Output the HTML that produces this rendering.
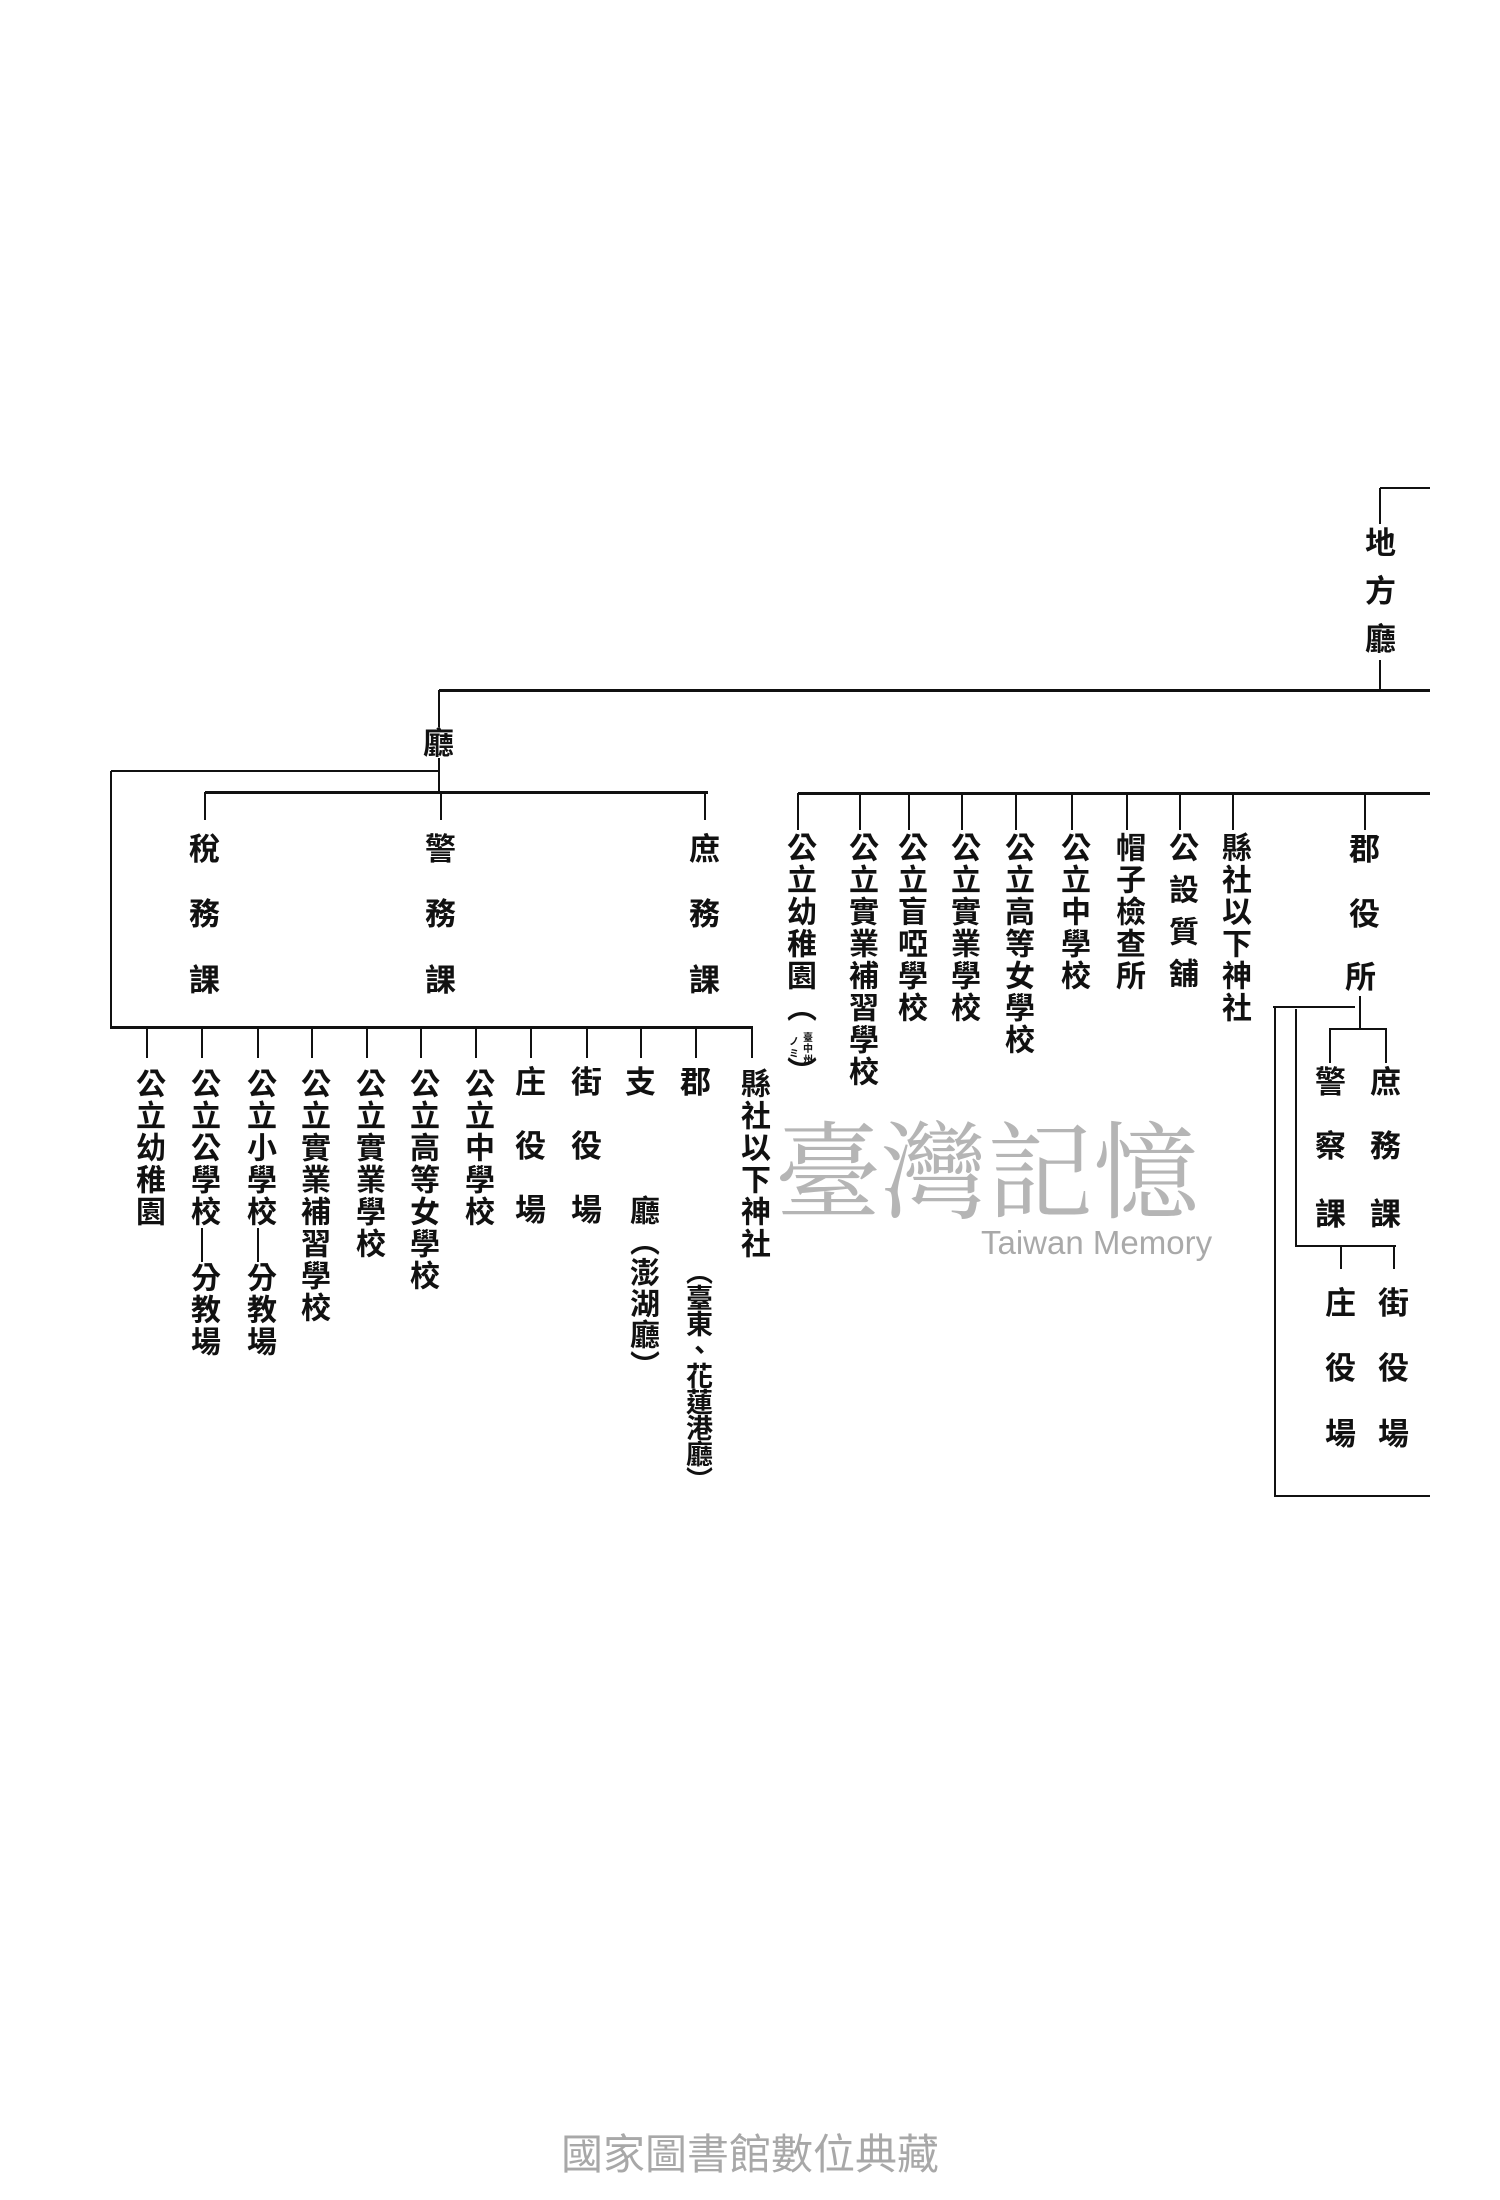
<!DOCTYPE html>
<html><head><meta charset="utf-8">
<style>
html,body{margin:0;padding:0;background:#fff;}
#c{position:relative;width:1500px;height:2200px;overflow:hidden;background:#fff;}
.h{position:absolute;height:3px;background:#111;}
.vl{position:absolute;width:2px;background:#111;}
.t{position:absolute;writing-mode:vertical-rl;text-orientation:upright;font-family:"Liberation Sans","Noto Sans CJK TC",sans-serif;font-weight:bold;font-size:30px;line-height:30px;letter-spacing:2px;color:#111;white-space:nowrap;}
.c{position:absolute;font-family:"Liberation Sans","Noto Sans CJK TC",sans-serif;font-weight:bold;font-size:31px;line-height:31px;width:31px;text-align:center;color:#111;}
.s{position:absolute;font-family:"Noto Sans CJK TC",sans-serif;font-weight:bold;font-size:10px;line-height:10px;width:10px;text-align:center;color:#111;}
</style></head><body><div id="c">
<div class="h" style="left:1380px;top:487px;width:50px;height:2px"></div>
<div class="vl" style="left:1379px;top:488px;height:36px"></div>
<div class="c" style="left:1365px;top:528px">地</div>
<div class="c" style="left:1365px;top:576px">方</div>
<div class="c" style="left:1365px;top:624px">廳</div>
<div class="vl" style="left:1379px;top:660px;height:31px"></div>
<div class="h" style="left:439px;top:689px;width:991px"></div>
<div class="vl" style="left:438px;top:690px;height:37px"></div>
<div class="c" style="left:423px;top:728px">廳</div>
<div class="vl" style="left:438px;top:758px;height:35px"></div>
<div class="h" style="left:111px;top:770px;width:328px;height:2px"></div>
<div class="h" style="left:205px;top:791px;width:503px"></div>
<div class="vl" style="left:204px;top:792px;height:28px"></div>
<div class="vl" style="left:440px;top:792px;height:28px"></div>
<div class="vl" style="left:704px;top:792px;height:28px"></div>
<div class="c" style="left:189px;top:834px">稅</div><div class="c" style="left:189px;top:899px">務</div><div class="c" style="left:189px;top:965px">課</div>
<div class="c" style="left:425px;top:834px">警</div><div class="c" style="left:425px;top:899px">務</div><div class="c" style="left:425px;top:965px">課</div>
<div class="c" style="left:689px;top:834px">庶</div><div class="c" style="left:689px;top:899px">務</div><div class="c" style="left:689px;top:965px">課</div>
<div class="vl" style="left:110px;top:771px;height:258px"></div>
<div class="h" style="left:111px;top:1026px;width:642px"></div>
<div class="vl" style="left:146px;top:1028px;height:30px"></div>
<div class="vl" style="left:201px;top:1028px;height:30px"></div>
<div class="vl" style="left:257px;top:1028px;height:30px"></div>
<div class="vl" style="left:311px;top:1028px;height:30px"></div>
<div class="vl" style="left:366px;top:1028px;height:30px"></div>
<div class="vl" style="left:420px;top:1028px;height:30px"></div>
<div class="vl" style="left:475px;top:1028px;height:30px"></div>
<div class="vl" style="left:530px;top:1028px;height:30px"></div>
<div class="vl" style="left:586px;top:1028px;height:30px"></div>
<div class="vl" style="left:640px;top:1028px;height:30px"></div>
<div class="vl" style="left:695px;top:1028px;height:30px"></div>
<div class="vl" style="left:751px;top:1028px;height:30px"></div>
<div class="t" style="left:132px;top:1068px">公立幼稚園</div>
<div class="t" style="left:187px;top:1068px">公立公學校</div>
<div class="vl" style="left:201px;top:1228px;height:34px"></div>
<div class="t" style="left:187px;top:1262px">分教場</div>
<div class="t" style="left:243px;top:1068px">公立小學校</div>
<div class="vl" style="left:257px;top:1228px;height:34px"></div>
<div class="t" style="left:243px;top:1262px">分教場</div>
<div class="t" style="left:297px;top:1068px">公立實業補習學校</div>
<div class="t" style="left:352px;top:1068px">公立實業學校</div>
<div class="t" style="left:406px;top:1068px">公立高等女學校</div>
<div class="t" style="left:461px;top:1068px">公立中學校</div>
<div class="c" style="left:515px;top:1067px">庄</div><div class="c" style="left:515px;top:1131px">役</div><div class="c" style="left:515px;top:1195px">場</div>
<div class="c" style="left:571px;top:1067px">街</div><div class="c" style="left:571px;top:1131px">役</div><div class="c" style="left:571px;top:1195px">場</div>
<div class="c" style="left:625px;top:1067px">支</div>
<div class="t" style="left:626px;top:1195px;letter-spacing:1px">廳（澎湖廳）</div>
<div class="c" style="left:680px;top:1067px">郡</div>
<div class="t" style="left:683px;top:1258px;font-size:27px;line-height:27px;letter-spacing:-1px">（臺東、花蓮港廳）</div>
<div class="t" style="left:737px;top:1068px">縣社以下神社</div>
<div class="h" style="left:798px;top:792px;width:632px"></div>
<div class="vl" style="left:797px;top:793px;height:37px"></div>
<div class="vl" style="left:859px;top:793px;height:37px"></div>
<div class="vl" style="left:908px;top:793px;height:37px"></div>
<div class="vl" style="left:961px;top:793px;height:37px"></div>
<div class="vl" style="left:1015px;top:793px;height:37px"></div>
<div class="vl" style="left:1071px;top:793px;height:37px"></div>
<div class="vl" style="left:1126px;top:793px;height:37px"></div>
<div class="vl" style="left:1179px;top:793px;height:37px"></div>
<div class="vl" style="left:1232px;top:793px;height:37px"></div>
<div class="vl" style="left:1364px;top:793px;height:37px"></div>
<div class="t" style="left:783px;top:832px">公立幼稚園（</div>
<div class="s" style="left:803px;top:1032px">臺</div>
<div class="s" style="left:803px;top:1043px">中</div>
<div class="s" style="left:803px;top:1054px">州</div>
<div class="s" style="left:789px;top:1036px">ノ</div>
<div class="s" style="left:789px;top:1048px">ミ</div>
<div class="t" style="left:783px;top:1056px">）</div>
<div class="t" style="left:845px;top:832px">公立實業補習學校</div>
<div class="t" style="left:894px;top:832px">公立盲啞學校</div>
<div class="t" style="left:947px;top:832px">公立實業學校</div>
<div class="t" style="left:1001px;top:832px">公立高等女學校</div>
<div class="t" style="left:1057px;top:832px">公立中學校</div>
<div class="t" style="left:1112px;top:832px">帽子檢查所</div>
<div class="t" style="left:1165px;top:832px;letter-spacing:12px">公設質舖</div>
<div class="t" style="left:1218px;top:832px">縣社以下神社</div>
<div class="c" style="left:1349px;top:834px">郡</div><div class="c" style="left:1349px;top:899px">役</div><div class="c" style="left:1345px;top:962px">所</div>
<div class="vl" style="left:1359px;top:996px;height:33px"></div>
<div class="h" style="left:1273px;top:1006px;width:82px;height:2px"></div>
<div class="h" style="left:1329px;top:1028px;width:58px;height:2px"></div>
<div class="vl" style="left:1329px;top:1029px;height:34px"></div>
<div class="vl" style="left:1385px;top:1029px;height:34px"></div>
<div class="c" style="left:1315px;top:1067px">警</div><div class="c" style="left:1315px;top:1131px">察</div><div class="c" style="left:1315px;top:1199px">課</div>
<div class="c" style="left:1370px;top:1067px">庶</div><div class="c" style="left:1370px;top:1131px">務</div><div class="c" style="left:1370px;top:1199px">課</div>
<div class="vl" style="left:1274px;top:1007px;height:490px"></div>
<div class="h" style="left:1275px;top:1495px;width:155px;height:2px"></div>
<div class="vl" style="left:1295px;top:1009px;height:238px"></div>
<div class="h" style="left:1296px;top:1245px;width:100px;height:2px"></div>
<div class="vl" style="left:1340px;top:1247px;height:22px"></div>
<div class="vl" style="left:1393px;top:1247px;height:22px"></div>
<div class="c" style="left:1325px;top:1288px">庄</div><div class="c" style="left:1325px;top:1353px">役</div><div class="c" style="left:1325px;top:1419px">場</div>
<div class="c" style="left:1378px;top:1288px">街</div><div class="c" style="left:1378px;top:1353px">役</div><div class="c" style="left:1378px;top:1419px">場</div>
<div style="position:absolute;left:775px;top:1100px;font-family:'Noto Serif CJK SC',serif;font-size:106px;line-height:130px;color:#a9a9a9;opacity:0.85;white-space:nowrap;">臺灣記憶</div>
<div style="position:absolute;left:981px;top:1226px;font-family:'Liberation Sans Narrow','Liberation Sans',sans-serif;font-size:33px;line-height:34px;color:#a9a9a9;white-space:nowrap;">Taiwan Memory</div>
<div style="position:absolute;left:561px;top:2132px;font-family:'Liberation Sans','Noto Sans CJK TC',sans-serif;font-size:42px;line-height:46px;color:#a8a8a8;white-space:nowrap;">國家圖書館數位典藏</div>
</div></body></html>
